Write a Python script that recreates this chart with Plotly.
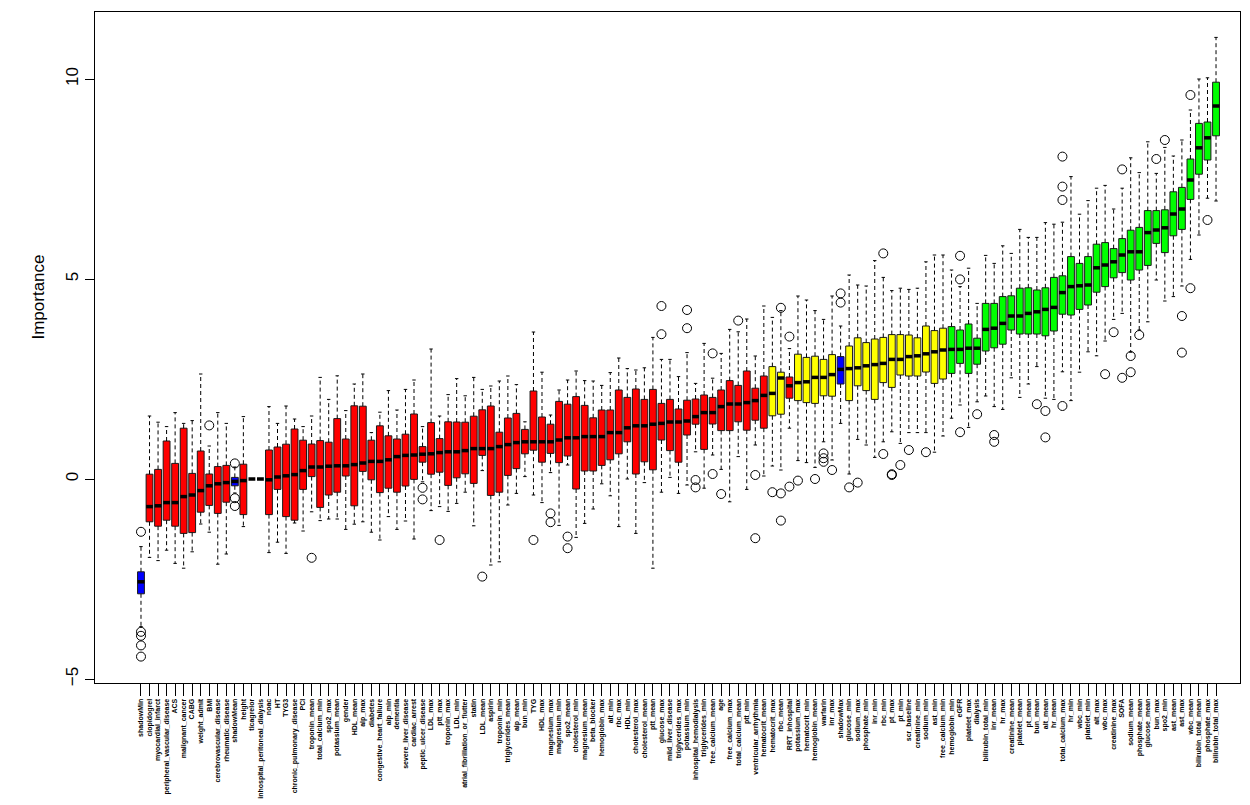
import plotly.graph_objects as go

labels = ["shadowMin","clopidogrel","myocardial_infarct","peripheral_vascular_disease","ACS","malignant_cancer","CABG","weight_admit","BMI","cerebrovascular_disease",
"rheumatic_disease","shadowMean","height","ticagrelor","inhospital_peritoneal_dialysis","noac","HT","TYG3","chronic_pulmonary_disease","PCI",
"troponin_mean","total_calcium_min","spo2_max","potassium_mean","gender","HDL_mean","alp_max","diabetes","congestive_heart_failure","alp_min",
"dementia","severe_liver_disease","cardiac_arrest","peptic_ulcer_disease","LDL_max","ptt_max","troponin_max","LDL_min","atrial_fibrillation_or_flutter","statin",
"LDL_mean","aspirin","troponin_min","triglycerides_mean","alp_mean","bun_min","TYG","HDL_max","magnesium_max","magnesium_min",
"spo2_mean","cholesterol_min","magnesium_mean","beta_blocker","hemoglobin_max","alt_min","rbc_max","HDL_min","cholesterol_max","cholesterol_mean",
"ptt_mean","glucose_max","mild_liver_disease","triglycerides_max","potassium_min","inhospital_hemodialysis","triglycerides_min","free_calcium_mean","age","free_calcium_max",
"total_calcium_mean","ptt_min","ventricular_arrhythmia","hematocrit_mean","hematocrit_max","rbc_mean","RRT_inhospital","potassium_max","hematocrit_min","hemoglobin_mean",
"warfarin","inr_max","shadowMax","glucose_min","sodium_max","phosphate_min","inr_min","rbc_min","pt_max","pt_min",
"scr_baseline","creatinine_min","sodium_min","ast_min","free_calcium_min","hemoglobin_min","eGFR","platelet_max","dialysis","bilirubin_total_min",
"inr_mean","hr_max","creatinine_mean","platelet_mean","pt_mean","bun_mean","alt_mean","hr_mean","total_calcium_max","hr_min",
"wbc_min","platelet_min","alt_max","wbc_max","creatinine_max","SOFA","sodium_mean","phosphate_mean","glucose_mean","bun_max",
"spo2_min","ast_mean","ast_max","wbc_mean","bilirubin_total_mean","phosphate_max","bilirubin_total_max"]

lower_whisker = [-3.69,-1.96,-2.04,-1.78,-2.11,-2.23,-1.82,-1.125,-1.33,-2.13,
-1.875,-0.35,-1.19,0,0,-1.84,-1.58,-1.86,-1.10,-1.30,
-0.82,-1.04,-1.00,-1.00,-1.26,-1.13,-1.07,-1.33,-1.525,-0.94,
-1.26,-1.05,-1.50,-0.07,-0.79,-0.69,-0.81,-0.61,-0.33,-1.17,
0.21,-2.15,-2.07,-0.65,-0.36,0.06,-0.40,-0.59,0.16,-1.16,
0.35,-1.46,-1.11,-0.75,-0.12,-0.42,-1.19,0.0,-1.36,-0.09,
-2.23,-0.33,0.04,-0.36,-0.15,0.68,-0.23,0.60,0.24,-0.57,
0.56,-0.26,0.85,0.075,0.325,0.225,1.27,0.46,0.41,0.29,
0.93,0.475,1.39,0.125,0.99,0.85,0.54,0.93,1.18,0.89,
1.16,1.16,1.16,0.67,1.075,1.52,1.85,1.29,1.93,2.075,
1.81,1.74,2.53,2.04,2.375,2.81,2.02,1.99,2.68,1.96,
2.67,3.18,3.08,3.45,3.99,4.14,3.17,3.725,3.93,4.975,
4.45,4.56,4.825,5.49,6.1,7.02,6.95]

q1 = [-2.87,-1.07,-1.18,-1.03,-1.18,-1.36,-1.34,-0.83,-0.66,-0.86,
-0.58,-0.17,-0.89,0,0,-0.89,-0.26,-0.94,-1.03,-0.26,
0.06,-0.71,-0.40,-0.33,0.075,-0.67,0.19,-0.02,-0.34,-0.23,
-0.33,-0.175,-0.01,0.42,0.12,0.17,-0.16,0.03,0.13,-0.11,
0.59,-0.41,-0.33,0.09,0.26,0.63,0.72,0.42,0.64,0.41,
0.575,-0.25,0.20,0.20,0.34,0.48,0.63,0.93,0.125,0.43,
0.23,0.975,0.71,0.42,1.10,1.37,0.74,1.375,1.21,1.21,
1.43,1.22,1.47,1.27,1.58,1.62,2.02,1.96,1.91,1.89,
2.08,2.07,2.375,1.96,2.33,2.21,1.99,2.41,2.29,2.60,
2.575,2.575,2.675,2.39,2.50,2.64,2.89,2.64,2.87,3.20,
3.28,3.37,3.725,3.625,3.625,3.625,3.58,3.70,4.12,4.10,
4.24,4.35,4.67,4.81,5.03,5.16,4.975,5.225,5.34,5.89,
5.66,6.08,6.24,6.99,7.62,7.975,8.58]

median = [-2.57,-0.69,-0.67,-0.59,-0.59,-0.44,-0.40,-0.29,-0.17,-0.12,
-0.09,-0.06,-0.04,0,0,-0.02,0.05,0.08,0.11,0.21,
0.30,0.30,0.32,0.33,0.33,0.36,0.40,0.44,0.44,0.48,
0.56,0.59,0.60,0.62,0.63,0.66,0.68,0.68,0.71,0.76,
0.76,0.76,0.81,0.86,0.91,0.93,0.93,0.93,0.93,0.975,
1.03,1.03,1.06,1.06,1.06,1.16,1.16,1.28,1.33,1.33,
1.37,1.39,1.425,1.425,1.45,1.56,1.66,1.66,1.81,1.875,
1.875,1.91,1.96,2.09,2.14,2.525,2.33,2.41,2.43,2.54,
2.54,2.61,2.74,2.76,2.78,2.83,2.86,2.89,2.99,2.99,
3.06,3.08,3.13,3.18,3.225,3.24,3.24,3.27,3.27,3.74,
3.77,3.89,4.075,4.075,4.14,4.18,4.24,4.29,4.66,4.81,
4.83,4.85,5.28,5.35,5.43,5.60,5.68,5.68,6.16,6.225,
6.28,6.625,6.75,7.475,8.28,8.53,9.325]

q3 = [-2.32,0.12,0.24,0.95,0.39,1.27,0.14,0.70,0.125,0.31,
0.34,0.04,0.37,0,0,0.725,0.80,0.87,1.25,0.97,
0.875,0.96,0.92,1.51,1.00,1.83,1.82,0.97,1.33,1.08,
1.00,1.12,1.625,0.81,1.41,1.01,1.43,1.425,1.42,1.57,
1.73,1.825,1.17,1.525,1.64,1.24,2.20,1.55,1.37,1.94,
1.87,2.06,1.84,1.53,1.725,1.725,2.225,2.04,2.25,1.99,
2.24,1.89,1.99,1.75,1.97,2.00,2.10,2.04,2.225,2.46,
2.34,2.70,2.27,2.575,2.81,2.67,2.55,3.12,3.04,3.07,
2.99,3.11,3.06,3.325,3.53,3.41,3.50,3.54,3.61,3.61,
3.60,3.53,3.825,3.71,3.77,3.81,3.725,3.875,3.52,4.39,
4.39,4.56,4.58,4.77,4.78,4.725,4.78,5.04,5.08,5.56,
5.39,5.56,5.87,5.91,5.76,6.01,6.22,6.29,6.71,6.71,
6.73,7.18,7.29,8.0,8.89,8.925,9.92]

upper_whisker = [-1.69,1.575,1.42,1.31,1.66,1.39,1.46,2.625,0.825,1.66,
1.39,0.30,1.56,0,0,1.81,1.39,1.825,1.50,1.31,
1.575,2.54,1.99,2.58,1.71,2.375,2.625,1.16,1.67,2.21,
1.725,2.24,2.475,1.31,3.25,1.575,2.11,2.51,2.08,2.54,
2.24,2.325,2.45,2.575,2.36,1.43,3.675,2.67,1.60,2.225,
2.475,2.70,2.46,2.45,2.34,2.66,3.025,2.76,2.725,2.78,
3.54,2.99,2.99,2.56,3.16,2.39,3.39,2.52,3.14,3.74,
3.68,4.0,3.075,4.325,4.04,4.21,3.26,4.575,4.475,4.21,
3.99,4.575,3.825,5.1,4.85,4.825,5.46,5.04,4.71,4.77,
4.74,4.77,5.43,5.6,5.6,5.225,4.81,5.27,4.39,5.59,
5.39,5.83,5.64,6.24,6.04,6.04,6.41,6.37,6.42,7.56,
6.62,6.96,7.27,7.34,6.75,7.27,8.03,7.66,8.43,7.64,
8.29,8.075,8.475,9.225,10.0,10.03,11.04]

outliers = {
    "shadowMin": [-1.32, -3.82, -3.92, -4.16, -4.44],
    "BMI": [1.34],
    "shadowMean": [0.39, -0.48, -0.675],
    "troponin_mean": [-1.97],
    "peptic_ulcer_disease": [-0.22, -0.51],
    "ptt_max": [-1.525],
    "LDL_mean": [-2.44],
    "TYG": [-1.525],
    "magnesium_max": [-0.86, -1.08],
    "spo2_mean": [-1.44, -1.73],
    "glucose_max": [4.325, 3.62],
    "potassium_min": [4.225, 3.77],
    "inhospital_hemodialysis": [-0.025, -0.21],
    "free_calcium_mean": [3.14, 0.125],
    "age": [-0.375],
    "total_calcium_mean": [3.96],
    "ventricular_arrhythmia": [0.1, -1.48],
    "hematocrit_max": [-0.33],
    "rbc_mean": [4.28, -0.36, -1.04],
    "RRT_inhospital": [3.56, -0.19],
    "potassium_max": [-0.04],
    "hemoglobin_mean": [0.0],
    "warfarin": [0.64, 0.52, 0.43],
    "inr_max": [0.225],
    "shadowMax": [4.64, 4.41],
    "glucose_min": [-0.21],
    "sodium_max": [-0.09],
    "rbc_min": [5.64, 0.625],
    "pt_max": [0.1, 0.12],
    "pt_min": [0.35],
    "scr_baseline": [0.725],
    "sodium_min": [0.67],
    "eGFR": [5.58, 4.99, 1.17],
    "dialysis": [1.62],
    "inr_mean": [1.1, 0.93],
    "bun_mean": [1.87],
    "alt_mean": [1.7, 1.04],
    "total_calcium_max": [8.06, 7.31, 6.975, 1.825],
    "wbc_max": [2.62],
    "creatinine_max": [3.67],
    "SOFA": [7.74, 2.53],
    "sodium_mean": [3.075, 2.67],
    "phosphate_mean": [3.6],
    "bun_max": [8.0],
    "spo2_min": [8.475],
    "ast_max": [4.075, 3.16],
    "wbc_mean": [9.6, 4.77],
    "phosphate_max": [6.475],
}

shadow = ["shadowMin", "shadowMean", "shadowMax"]
tentative = ["hematocrit_max", "rbc_mean", "potassium_max", "hematocrit_min", "hemoglobin_mean",
             "warfarin", "inr_max", "glucose_min", "sodium_max", "phosphate_min", "inr_min", "rbc_min",
             "pt_max", "pt_min", "scr_baseline", "creatinine_min", "sodium_min", "ast_min", "free_calcium_min"]
first_confirmed = "hemoglobin_min"

colors = {"shadow": "#0000FF", "Rejected": "#FF0000", "Tentative": "#FFFF00", "Confirmed": "#00FF00"}

n = len(labels)
conf_start = labels.index(first_confirmed)
status = []
for i, lab in enumerate(labels):
    if lab in shadow:
        status.append("shadow")
    elif lab in tentative:
        status.append("Tentative")
    elif i >= conf_start:
        status.append("Confirmed")
    else:
        status.append("Rejected")

xs = list(range(1, n + 1))
box_half = 0.4
staple_half = 0.2
border = "#1a1a1a"

fig = go.Figure()

# whiskers (dashed)
wx, wy = [], []
for i in range(n):
    x = xs[i]
    wx += [x, x, None, x, x, None]
    wy += [q3[i], upper_whisker[i], None, q1[i], lower_whisker[i], None]
fig.add_trace(go.Scatter(x=wx, y=wy, mode="lines", line=dict(color="black", width=1, dash="4px,3px"),
                         hoverinfo="skip", showlegend=False))
# staples
sx, sy = [], []
for i in range(n):
    x = xs[i]
    if upper_whisker[i] == lower_whisker[i]:
        continue
    sx += [x - staple_half, x + staple_half, None, x - staple_half, x + staple_half, None]
    sy += [upper_whisker[i], upper_whisker[i], None, lower_whisker[i], lower_whisker[i], None]
fig.add_trace(go.Scatter(x=sx, y=sy, mode="lines", line=dict(color="black", width=1),
                         hoverinfo="skip", showlegend=False))

# boxes
for st in ["Rejected", "Tentative", "Confirmed", "shadow"]:
    idx = [i for i in range(n) if status[i] == st and q3[i] > q1[i]]
    fig.add_trace(go.Bar(
        x=[xs[i] for i in idx],
        y=[q3[i] - q1[i] for i in idx],
        base=[q1[i] for i in idx],
        width=2 * box_half,
        marker=dict(color=colors[st], line=dict(color=border, width=1)),
        hoverinfo="skip", showlegend=False))

# medians
mx, my = [], []
for i in range(n):
    x = xs[i]
    mx += [x - box_half, x + box_half, None]
    my += [median[i], median[i], None]
fig.add_trace(go.Scatter(x=mx, y=my, mode="lines", line=dict(color="black", width=3.5),
                         hoverinfo="skip", showlegend=False))

# outliers
ox, oy = [], []
for i, lab in enumerate(labels):
    for v in outliers.get(lab, []):
        ox.append(xs[i])
        oy.append(v)
fig.add_trace(go.Scatter(x=ox, y=oy, mode="markers",
                         marker=dict(symbol="circle-open", size=9, color="black", line=dict(width=1)),
                         hoverinfo="skip", showlegend=False))

fig.update_layout(
    width=1250, height=805,
    margin=dict(l=95, r=10, t=12, b=122),
    paper_bgcolor="white", plot_bgcolor="white",
    barmode="overlay",
    font=dict(family="Liberation Sans, Arial, sans-serif", color="black"),
    showlegend=False,
    annotations=[dict(text="Importance", textangle=-90, font=dict(size=17),
                      xref="paper", yref="y", x=-0.0502, y=4.55, xanchor="center", yanchor="middle",
                      showarrow=False)],
)
fig.update_xaxes(
    range=[-4.39, 129.81], automargin=False,
    tickmode="array", tickvals=xs, ticktext=labels,
    tickangle=-90, ticks="outside", ticklen=12, tickwidth=1, tickcolor="black",
    tickfont=dict(size=7, family="Liberation Sans, Arial, sans-serif", weight="bold"),
    showline=True, linecolor="black", linewidth=1, mirror=True,
    showgrid=False, zeroline=False,
)
fig.update_yaxes(
    range=[-5.1, 11.675], automargin=False,
    tickmode="array", tickvals=[-5, 0, 5, 10], ticktext=["\u22125", "0", "5", "10"],
    tickangle=-90, ticks="outside", ticklen=9, tickwidth=1, tickcolor="black",
    tickfont=dict(size=17),
    showline=True, linecolor="black", linewidth=1, mirror=True,
    showgrid=False, zeroline=False,
)

fig.write_html("out.html")
